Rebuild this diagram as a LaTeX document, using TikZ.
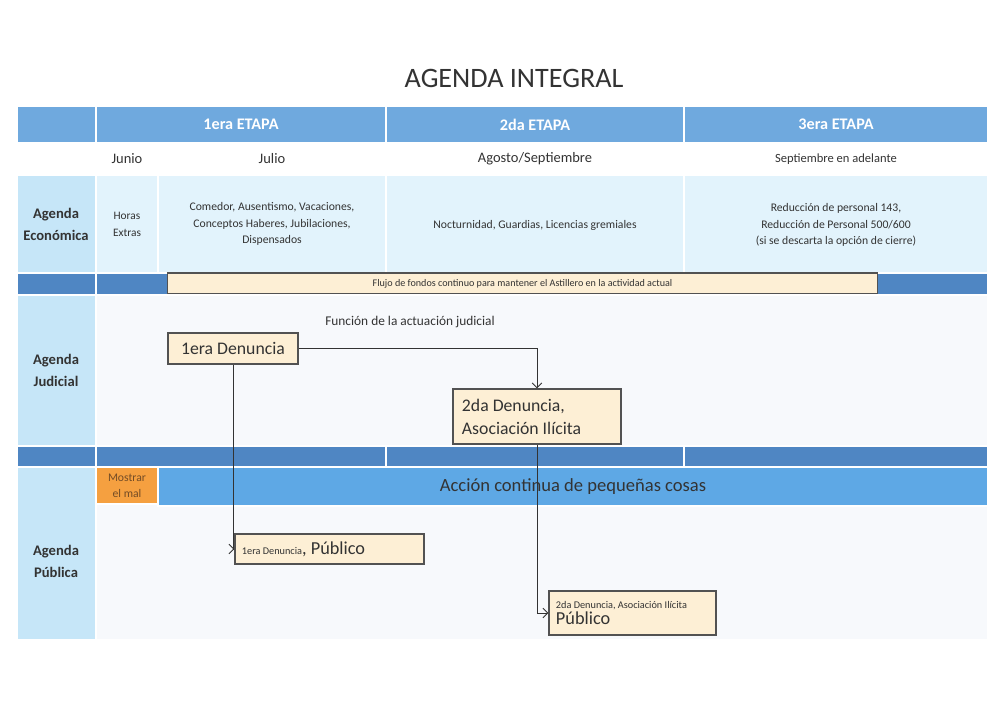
\documentclass[tikz,border=0pt]{standalone}
\usepackage{fontspec}
\setmainfont{Carlito}
\usetikzlibrary{arrows.meta}

\definecolor{hdrblue}{HTML}{6FA9DE}
\definecolor{bandblue}{HTML}{4F86C3}
\definecolor{lblblue}{HTML}{C6E6F8}
\definecolor{rowblue}{HTML}{E2F3FC}
\definecolor{paleblue}{HTML}{F7F9FC}
\definecolor{accblue}{HTML}{5EA8E5}
\definecolor{mostrarorange}{HTML}{F5A040}
\definecolor{boxfill}{HTML}{FDEFD5}
\definecolor{ink}{HTML}{333333}

\tikzset{
  cell/.style={draw=white, line width=0.9pt},
  hdrtext/.style={text=white, font=\fontsize{11.5}{13}\selectfont\bfseries},
  month/.style={text=ink, font=\fontsize{10.3}{12}\selectfont},
  smalltext/.style={text=ink, align=center, font=\fontsize{8.3}{11.7}\selectfont},
  rowlabel/.style={text=ink, align=center, font=\fontsize{10.4}{15.6}\selectfont\bfseries},
  denbox/.style={draw=ink!85, fill=boxfill, line width=0.8pt, inner ysep=0pt},
  conn/.style={draw=ink, line width=0.7pt, -{Straight Barb[length=1.2mm, width=2.4mm]}},
}

\begin{document}
\begin{tikzpicture}[x=0.025cm, y=-0.025cm]
    \fill[white] (0,0) rectangle (1008,713);

    % Title
    \node[text=ink, font=\fontsize{20}{24}\selectfont] (title) at (514,78) {AGENDA INTEGRAL};

    % Header row
    \foreach \a/\b in {17/96, 96/386, 386/684, 684/988}
        \filldraw[cell, fill=hdrblue] (\a,106) rectangle (\b,143);
    \node[hdrtext] (etapa1) at (241,124.5) {1era ETAPA};
    \node[hdrtext] (etapa2) at (535,124.5) {2da ETAPA};
    \node[hdrtext] (etapa3) at (836,124.5) {3era ETAPA};

    % Months
    \node[month] (junio) at (127,159) {Junio};
    \node[month] (julio) at (272,159) {Julio};
    \node[month] (agosto) at (535,159) {Agosto/Septiembre};
    \node[month, font=\fontsize{8.9}{11}\selectfont] (septiembre) at (836,159) {Septiembre en adelante};

    % Agenda economica row
    \filldraw[cell, fill=lblblue] (17,175) rectangle (96,273);
    \foreach \a/\b in {96/158, 158/386, 386/684, 684/988}
        \filldraw[cell, fill=rowblue] (\a,175) rectangle (\b,273);
    \node[rowlabel] (econ) at (56,224) {Agenda\\Económica};
    \node[smalltext, font=\fontsize{8.1}{12}\selectfont] (horas) at (127,224) {Horas\\Extras};
    \node[smalltext] (comedor) at (272,224) {Comedor, Ausentismo, Vacaciones,\\Conceptos Haberes, Jubilaciones,\\Dispensados};
    \node[smalltext] (nocturnidad) at (535,225) {Nocturnidad, Guardias, Licencias gremiales};
    \node[smalltext] (reduccion) at (836,225) {Reducción de personal 143,\\Reducción de Personal 500/600\\(si se descarta la opción de cierre)};

    % Dark bands
    \foreach \y/\yy in {273/295, 446/467}
        \foreach \a/\b in {17/96, 96/386, 386/684, 684/988}
            \filldraw[cell, fill=bandblue] (\a,\y) rectangle (\b,\yy);

    % Flujo de fondos
    \node[denbox, minimum width=17.725cm, minimum height=0.525cm, text=ink, font=\fontsize{7.2}{8}\selectfont] (flujo) at (522.5,283.5) {Flujo de fondos continuo para mantener el Astillero en la actividad actual};

    % Agenda judicial row
    \filldraw[cell, fill=lblblue] (17,295) rectangle (96,446);
    \filldraw[cell, fill=paleblue] (96,295) rectangle (988,446);
    \node[rowlabel] (judicial) at (56,370) {Agenda\\Judicial};
    \node[text=ink, font=\fontsize{9.5}{11}\selectfont] (funcion) at (410,322) {Función de la actuación judicial};

    \node[denbox, minimum width=3.25cm, minimum height=0.775cm, text=ink, font=\fontsize{12.6}{15}\selectfont] (den1) at (233,348.5) {1era Denuncia};
    \node[denbox, minimum height=1.375cm, inner xsep=0.225cm, text width=3.75cm, align=flush left, text=ink, font=\fontsize{12.6}{16.3}\selectfont] (den2) at (537,416.5) {2da Denuncia,\\Asociación Ilícita};

    % Agenda publica row
    \filldraw[cell, fill=lblblue] (17,467) rectangle (96,640);
    \filldraw[cell, fill=paleblue] (96,467) rectangle (988,640);
    \filldraw[cell, fill=mostrarorange] (96,467) rectangle (158,504);
    \filldraw[cell, fill=accblue] (158,467) rectangle (988,506);
    \node[rowlabel] (publica) at (56,561) {Agenda\\Pública};
    \node[smalltext, text=brown!60!black, font=\fontsize{8.3}{11.3}\selectfont] (mostrar) at (127,486) {Mostrar\\el mal};
    \node[text=ink, font=\fontsize{13.2}{15}\selectfont] (accion) at (573,487) {Acción continua de pequeñas cosas};

    \node[denbox, minimum width=4.725cm, minimum height=0.75cm, inner xsep=0.175cm, text width=4.375cm, align=flush left, text=ink] (pub1) at (329.5,549) {{\fontsize{7.3}{9}\selectfont 1era Denuncia}{\fontsize{13}{15}\selectfont, Público}};
    \node[denbox, minimum height=1.1cm, inner xsep=0.175cm, text width=3.825cm, align=flush left, text=ink] (pub2) at (632.5,613) {{\fontsize{7.3}{9}\selectfont 2da Denuncia, Asociación Ilícita}\\{\fontsize{13}{15}\selectfont Público}};

    % Connectors
    \draw[conn] (den1.east) -| (den2.north);
    \draw[conn] (den1.south) |- (pub1.west);
    \draw[conn] (den2.south) |- (pub2.west);

\end{tikzpicture}
\end{document}
